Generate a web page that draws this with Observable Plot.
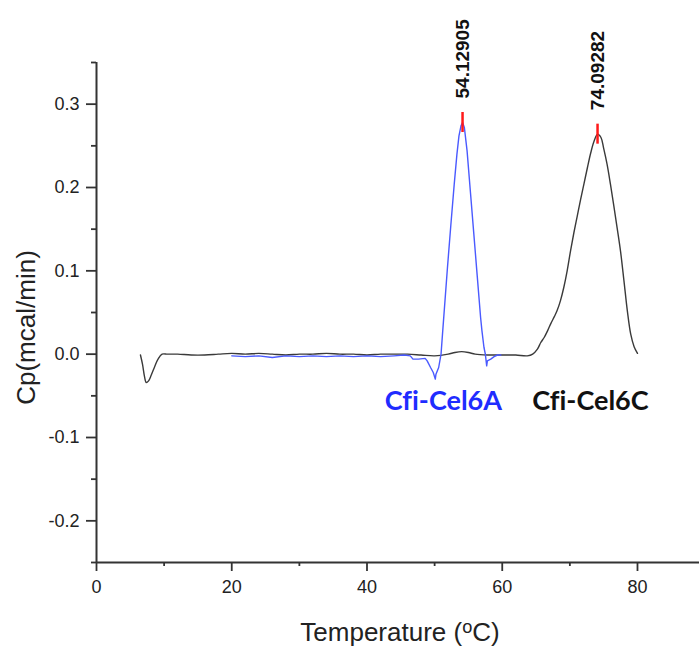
<!DOCTYPE html>
<html><head><meta charset="utf-8">
<script src="https://cdn.jsdelivr.net/npm/d3@7"></script>
<script src="https://cdn.jsdelivr.net/npm/@observablehq/plot@0.6"></script>
<style>body{margin:0;background:#fff}#chart svg{display:block}#chart text{font-variant-ligatures:none;font-feature-settings:"liga" 0}</style>
</head><body><div id="chart"></div>
<script>
// Cfi-Cel6C (black) DSC trace
const cel6cT = [6.5,6.8,7.1,7.35,7.7,8.1,8.6,9.1,9.7,10.5,12,14,16,18,20,22,24,26,28,30,32,34,36,38,40,42,44,46,48,50,52,53,54,55,56,58,60,62,63.7,64.5,65.2,65.7,66.2,66.7,67.2,67.7,68.1,68.6,69.1,69.6,70.1,70.6,71.1,71.6,72.1,72.6,73.1,73.6,74.1,74.6,75.0,75.5,76.0,76.5,77.0,77.5,78.0,78.5,79.0,79.5,80.0];
const cel6cCp = [-0.001,-0.012,-0.027,-0.034,-0.032,-0.025,-0.015,-0.006,0.000,0.000,0.000,-0.001,-0.001,0.000,0.001,0.000,0.001,0.000,-0.001,0.000,0.000,0.001,0.000,0.000,-0.001,0.000,0.000,0.000,-0.001,-0.002,0.000,0.002,0.003,0.002,0.000,-0.001,-0.001,-0.001,-0.002,0.000,0.006,0.014,0.020,0.028,0.037,0.045,0.052,0.064,0.080,0.100,0.124,0.146,0.166,0.186,0.205,0.224,0.242,0.256,0.264,0.260,0.247,0.228,0.204,0.178,0.151,0.123,0.088,0.052,0.024,0.009,0.001];

// Cfi-Cel6A (blue) DSC trace
const cel6aT = [20,22,24,26,28,30,32,34,36,38,40,42,44,45.5,46.4,46.8,47.6,48.6,48.9,49.4,49.8,50.1,50.2,50.6,50.95,51.2,51.9,52.4,52.9,53.3,53.6,53.9,54.13,54.4,54.8,55.3,55.8,56.3,56.8,57.0,57.3,57.5,57.7,57.8,58.3,58.8,59.3,59.8];
const cel6aCp = [-0.002,-0.003,-0.002,-0.004,-0.002,-0.003,-0.002,-0.003,-0.002,-0.003,-0.002,-0.003,-0.002,-0.001,-0.002,-0.006,-0.006,-0.005,-0.008,-0.016,-0.022,-0.030,-0.024,-0.016,0.000,0.028,0.104,0.155,0.204,0.240,0.262,0.274,0.278,0.272,0.244,0.194,0.144,0.094,0.044,0.028,0.008,0.000,-0.014,-0.008,-0.006,-0.003,-0.001,-0.001];

// Peak annotations
const peakT = [54.12905, 74.09282];
const peakCp = [0.278, 0.264];
const peakLabels = ["54.12905", "74.09282"];

// Series labels
const seriesNames = ["Cfi-Cel6A", "Cfi-Cel6C"];
const seriesColors = ["#1f2cff", "#111111"];
const seriesLabelT = [51.3, 73.05];
const seriesLabelCp = [-0.057, -0.057];

// Ticks
const xMajor = [0, 20, 40, 60, 80];
const xMinor = [10, 30, 50, 70];
const yMajor = [-0.2, -0.1, 0.0, 0.1, 0.2, 0.3];
const yMinor = [-0.25, -0.15, -0.05, 0.05, 0.15, 0.25, 0.35];

const xTitle = "Temperature (oC)";
const yTitle = "Cp(mcal/min)";

const cel6c = cel6cT.map((t, i) => ({t, cp: cel6cCp[i]}));
const cel6a = cel6aT.map((t, i) => ({t, cp: cel6aCp[i]}));
const peaks = peakT.map((t, i) => ({t, cp: peakCp[i], label: peakLabels[i]}));
const series = seriesNames.map((name, i) => ({name, color: seriesColors[i], t: seriesLabelT[i], cp: seriesLabelCp[i]}));

const axisColor = "#333";
const chart = Plot.plot({
  width: 699, height: 649,
  marginLeft: 96, marginRight: 0, marginTop: 62, marginBottom: 87,
  style: {fontFamily: "'Liberation Sans', Arial, sans-serif", background: "#fff", color: "#222"},
  x: {domain: [0, 89.17]},
  y: {domain: [-0.25, 0.35]},
  marks: [
    Plot.axisY(yMajor, {tickSize: 10, tickPadding: 7, fontSize: 18, tickFormat: d => d.toFixed(1), label: null, stroke: axisColor, strokeWidth: 1.8}),
    Plot.axisY(yMinor, {tickSize: 5, tickFormat: () => "", label: null, stroke: axisColor, strokeWidth: 1.8}),
    Plot.axisX(xMajor, {tickSize: 9, tickPadding: 9, fontSize: 18, tickFormat: d => String(d), label: null, stroke: axisColor, strokeWidth: 1.8}),
    Plot.axisX(xMinor, {tickSize: 4, tickFormat: () => "", label: null, stroke: axisColor, strokeWidth: 1.8}),
    Plot.ruleX([0], {stroke: axisColor, strokeWidth: 2}),
    Plot.ruleY([-0.25], {stroke: axisColor, strokeWidth: 2}),
    Plot.line(cel6c, {x: "t", y: "cp", stroke: "#3a3a3a", strokeWidth: 1.4, curve: "catmull-rom"}),
    Plot.line(cel6a, {x: "t", y: "cp", stroke: "#4a5aff", strokeWidth: 1.4, curve: "linear"}),
    Plot.ruleX(peaks, {x: "t", y1: d => d.cp - 0.012, y2: d => d.cp + 0.012, stroke: "#ff1a1a", strokeWidth: 2.5}),
    Plot.text(peaks, {x: "t", y: "cp", text: "label", rotate: -90, textAnchor: "start", lineAnchor: "middle", dy: -24, fontSize: 19, fontWeight: "bold", fill: "#111"}),
    Plot.text(series, {x: "t", y: "cp", text: "name", fill: "color", fontFamily: "Lato", fontWeight: "bold", fontSize: 27, lineAnchor: "middle"}),
    Plot.text([yTitle], {text: d => d, frameAnchor: "left", dx: -70, dy: 15, rotate: -90, textAnchor: "middle", lineAnchor: "middle", fontSize: 26, fill: "#222"}),
    Plot.text([xTitle], {text: d => d, frameAnchor: "bottom", dx: 2, dy: 70, lineAnchor: "middle", fontSize: 26, fill: "#222"})
  ]
});
document.getElementById("chart").appendChild(chart);

// superscript "o" in the x title
d3.select(chart).selectAll("text").filter(function () { return this.textContent === xTitle; })
  .each(function () {
    const t = d3.select(this);
    t.text(null);
    t.append("tspan").text("Temperature (");
    t.append("tspan").attr("dy", "-0.42em").attr("font-size", "70%").text("o");
    t.append("tspan").attr("dy", "0.3em").text("C)");
  });
</script>
</body></html>
